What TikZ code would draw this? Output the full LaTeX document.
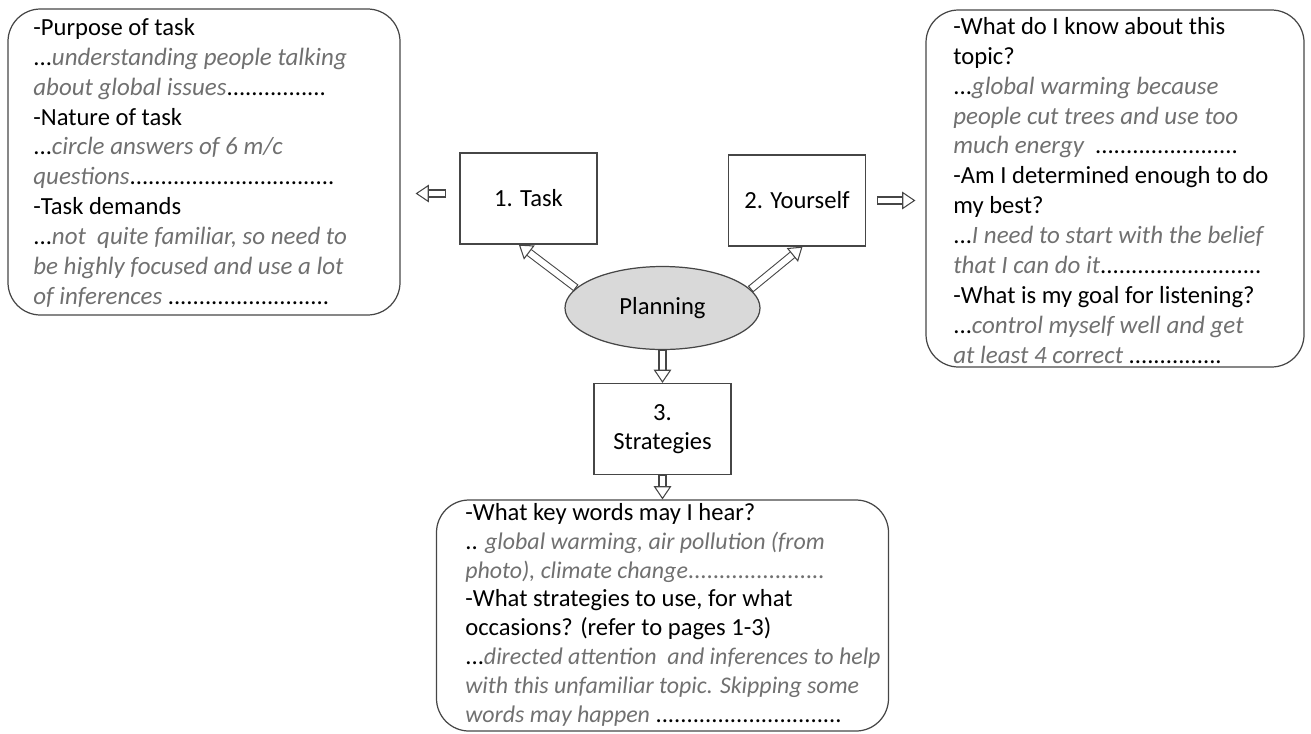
\documentclass[tikz,border=0pt]{standalone}
\usepackage{fontspec}
\setmainfont{Carlito}
\usetikzlibrary{arrows.meta,shapes.geometric,calc}
\definecolor{answergray}{RGB}{112,112,112}
\definecolor{edgegray}{RGB}{70,70,70}
\definecolor{ovalfill}{RGB}{217,217,217}
\newcommand{\anssize}{14.2}
\newcommand{\ans}[1]{{\color{answergray}\fontsize{\anssize}{17}\selectfont\itshape #1}}
\newcommand{\ansdots}[1]{{\color{answergray}#1}}

\begin{document}
\begin{tikzpicture}[
    notebox/.style={draw=edgegray, line width=0.7pt, rounded corners=0.65cm},
    stepbox/.style={draw=edgegray, line width=0.7pt, align=center,
        minimum width=2.74cm, minimum height=1.82cm, font=\fontsize{14}{16.5}\selectfont},
    notetext/.style={anchor=north west, inner sep=0pt, align=left,
        font=\fontsize{14}{17}\selectfont},
    hollow/.style={draw=edgegray, line width=0.6pt, double=white, double distance=3.4pt,
        {Bar[width=4.6pt, line width=0.6pt]}-{Triangle[open, length=7.5pt, width=10pt, line width=0.6pt]}}
]
    \useasboundingbox (0,0) rectangle (26.22,-14.66);

    % Centre: planning and its three steps
    \node[ellipse, draw=edgegray, fill=ovalfill, line width=0.7pt, minimum width=3.9cm,
        minimum height=1.66cm, font=\fontsize{14}{16.5}\selectfont] (planning) at (13.25,-6.16) {Planning};
    \node[stepbox] (task) at (10.57,-3.97) {1. Task};
    \node[stepbox] (yourself) at (15.94,-4.01) {2. Yourself};
    \node[stepbox] (strategies) at (13.25,-8.58) {3.\\Strategies};

    % Note boxes
    \node[notebox, minimum width=7.84cm, minimum height=6.12cm] (tasknotes) at (4.08,-3.24) {};
    \node[notebox, minimum width=7.56cm, minimum height=7.14cm] (selfnotes) at (22.30,-3.77) {};
    \node[notebox, minimum width=9.04cm, minimum height=4.62cm] (stratnotes) at (13.25,-12.31) {};

    % Texts of the note boxes
    \node[notetext] (tasktext) at (0.66,-0.36) {-Purpose of task\\
        ...\ans{understanding people talking}\\
        \ans{about global issues}................\\
        -Nature of task\\
        ...\ans{circle answers of 6 m/c}\\
        \ans{questions}.................................\\
        -Task demands\\
        ...\ans{not\ \ quite familiar, so need to}\\
        \ans{be highly focused and use a lot}\\
        \ans{of inferences} ..........................};
    \node[notetext] (selftext) at (19.06,-0.34) {-What do I know about this\\
        topic?\\
        ...\ans{global warming because}\\
        \ans{people cut trees and use too}\\
        \ans{much energy}\ \ .......................\\
        -Am I determined enough to do\\
        my best?\\
        ...\ans{I need to start with the belief}\\
        \ans{that I can do it}..........................\\
        -What is my goal for listening?\\
        ...\ans{control myself well and get}\\
        \ans{at least 4 correct} ...............};
    \node[notetext, font=\fontsize{14}{16.4}\selectfont\renewcommand{\anssize}{13.6}] (strattext) at (9.30,-10.06) {-What key words may I hear?\\
        .. \ans{global warming, air pollution (from}\\
        \ans{photo), climate change}\ansdots{......................}\\
        -What strategies to use, for what\\
        occasions? (refer to pages 1-3)\\
        ...\ans{directed attention\ \ and inferences to help}\\
        \ans{with this unfamiliar topic. Skipping some}\\
        \ans{words may happen} ..............................};

    % Arrows
    \draw[hollow] (planning.167) -- ($(task.south west)!0.43!(task.south east)$);
    \draw[hollow] (planning.12) -- ($(yourself.south west)!0.54!(yourself.south east)$);
    \draw[hollow] (planning.south) -- (strategies.north);
    \draw[hollow] (strategies.south) -- (stratnotes.north);
    \draw[hollow, shorten <=0.26cm, shorten >=0.3cm] ([yshift=0.1cm]task.west) -- ([yshift=0.1cm]task.west -| tasknotes.east);
    \draw[hollow, shorten <=0.22cm, shorten >=0.2cm] (yourself.east) -- (yourself.east -| selfnotes.west);
\end{tikzpicture}
\end{document}
